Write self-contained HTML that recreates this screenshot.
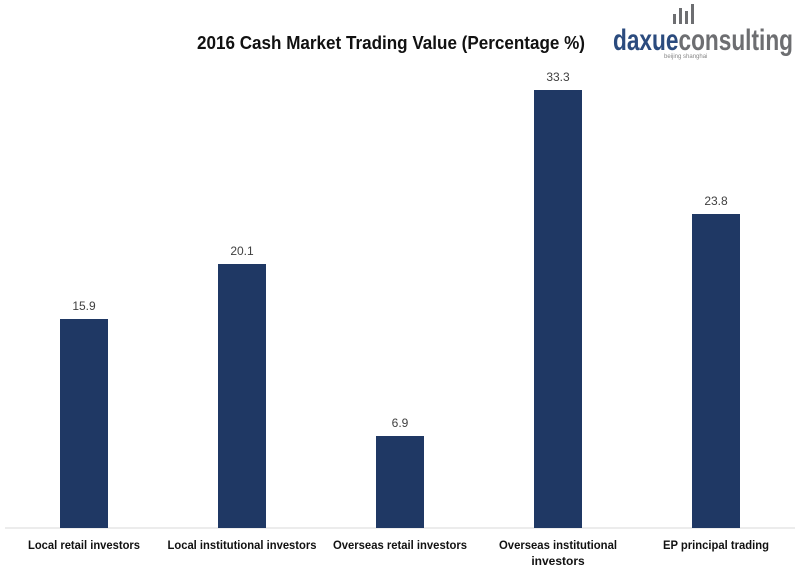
<!DOCTYPE html>
<html><head><meta charset="utf-8"><style>
html,body{margin:0;padding:0;background:#fff;}
svg{display:block;font-family:"Liberation Sans",Arial,sans-serif;}
</style></head><body>
<svg width="800" height="574" viewBox="0 0 800 574">
<text x="197" y="49" font-size="18" font-weight="bold" fill="#111" textLength="388" lengthAdjust="spacingAndGlyphs">2016 Cash Market Trading Value (Percentage %)</text>
<!-- logo -->
<g fill="#6d6e71">
<rect x="673" y="14" width="3" height="10"/><rect x="679" y="8" width="3" height="16"/><rect x="685" y="11" width="3" height="13"/><rect x="691" y="4" width="3" height="20"/>
</g>
<text x="613" y="50" font-size="30" font-weight="bold" textLength="180" lengthAdjust="spacingAndGlyphs"><tspan fill="#2b4b7e">daxue</tspan><tspan fill="#6d6e71">consulting</tspan></text>
<text x="664" y="58" font-size="6" fill="#888">beijing shanghai</text>
<line x1="5" y1="528" x2="795" y2="528" stroke="#d9d9d9" stroke-width="1"/>
<g fill="#1f3864">
<rect x="60" y="319" width="48" height="209"/>
<rect x="218" y="264" width="48" height="264"/>
<rect x="376" y="436" width="48" height="92"/>
<rect x="534" y="90" width="48" height="438"/>
<rect x="692" y="214" width="48" height="314"/>
</g>
<g font-size="12" fill="#404040" text-anchor="middle">
<text x="84" y="310">15.9</text>
<text x="242" y="255">20.1</text>
<text x="400" y="427">6.9</text>
<text x="558" y="81">33.3</text>
<text x="716" y="205">23.8</text>
</g>
<g font-size="12" font-weight="bold" fill="#111" text-anchor="middle">
<text x="84" y="549" textLength="112" lengthAdjust="spacingAndGlyphs">Local retail investors</text>
<text x="242" y="549" textLength="149" lengthAdjust="spacingAndGlyphs">Local institutional investors</text>
<text x="400" y="549" textLength="134" lengthAdjust="spacingAndGlyphs">Overseas retail investors</text>
<text x="558" y="549" textLength="118" lengthAdjust="spacingAndGlyphs">Overseas institutional</text>
<text x="558" y="565">investors</text>
<text x="716" y="549" textLength="106" lengthAdjust="spacingAndGlyphs">EP principal trading</text>
</g>
</svg>
</body></html>
